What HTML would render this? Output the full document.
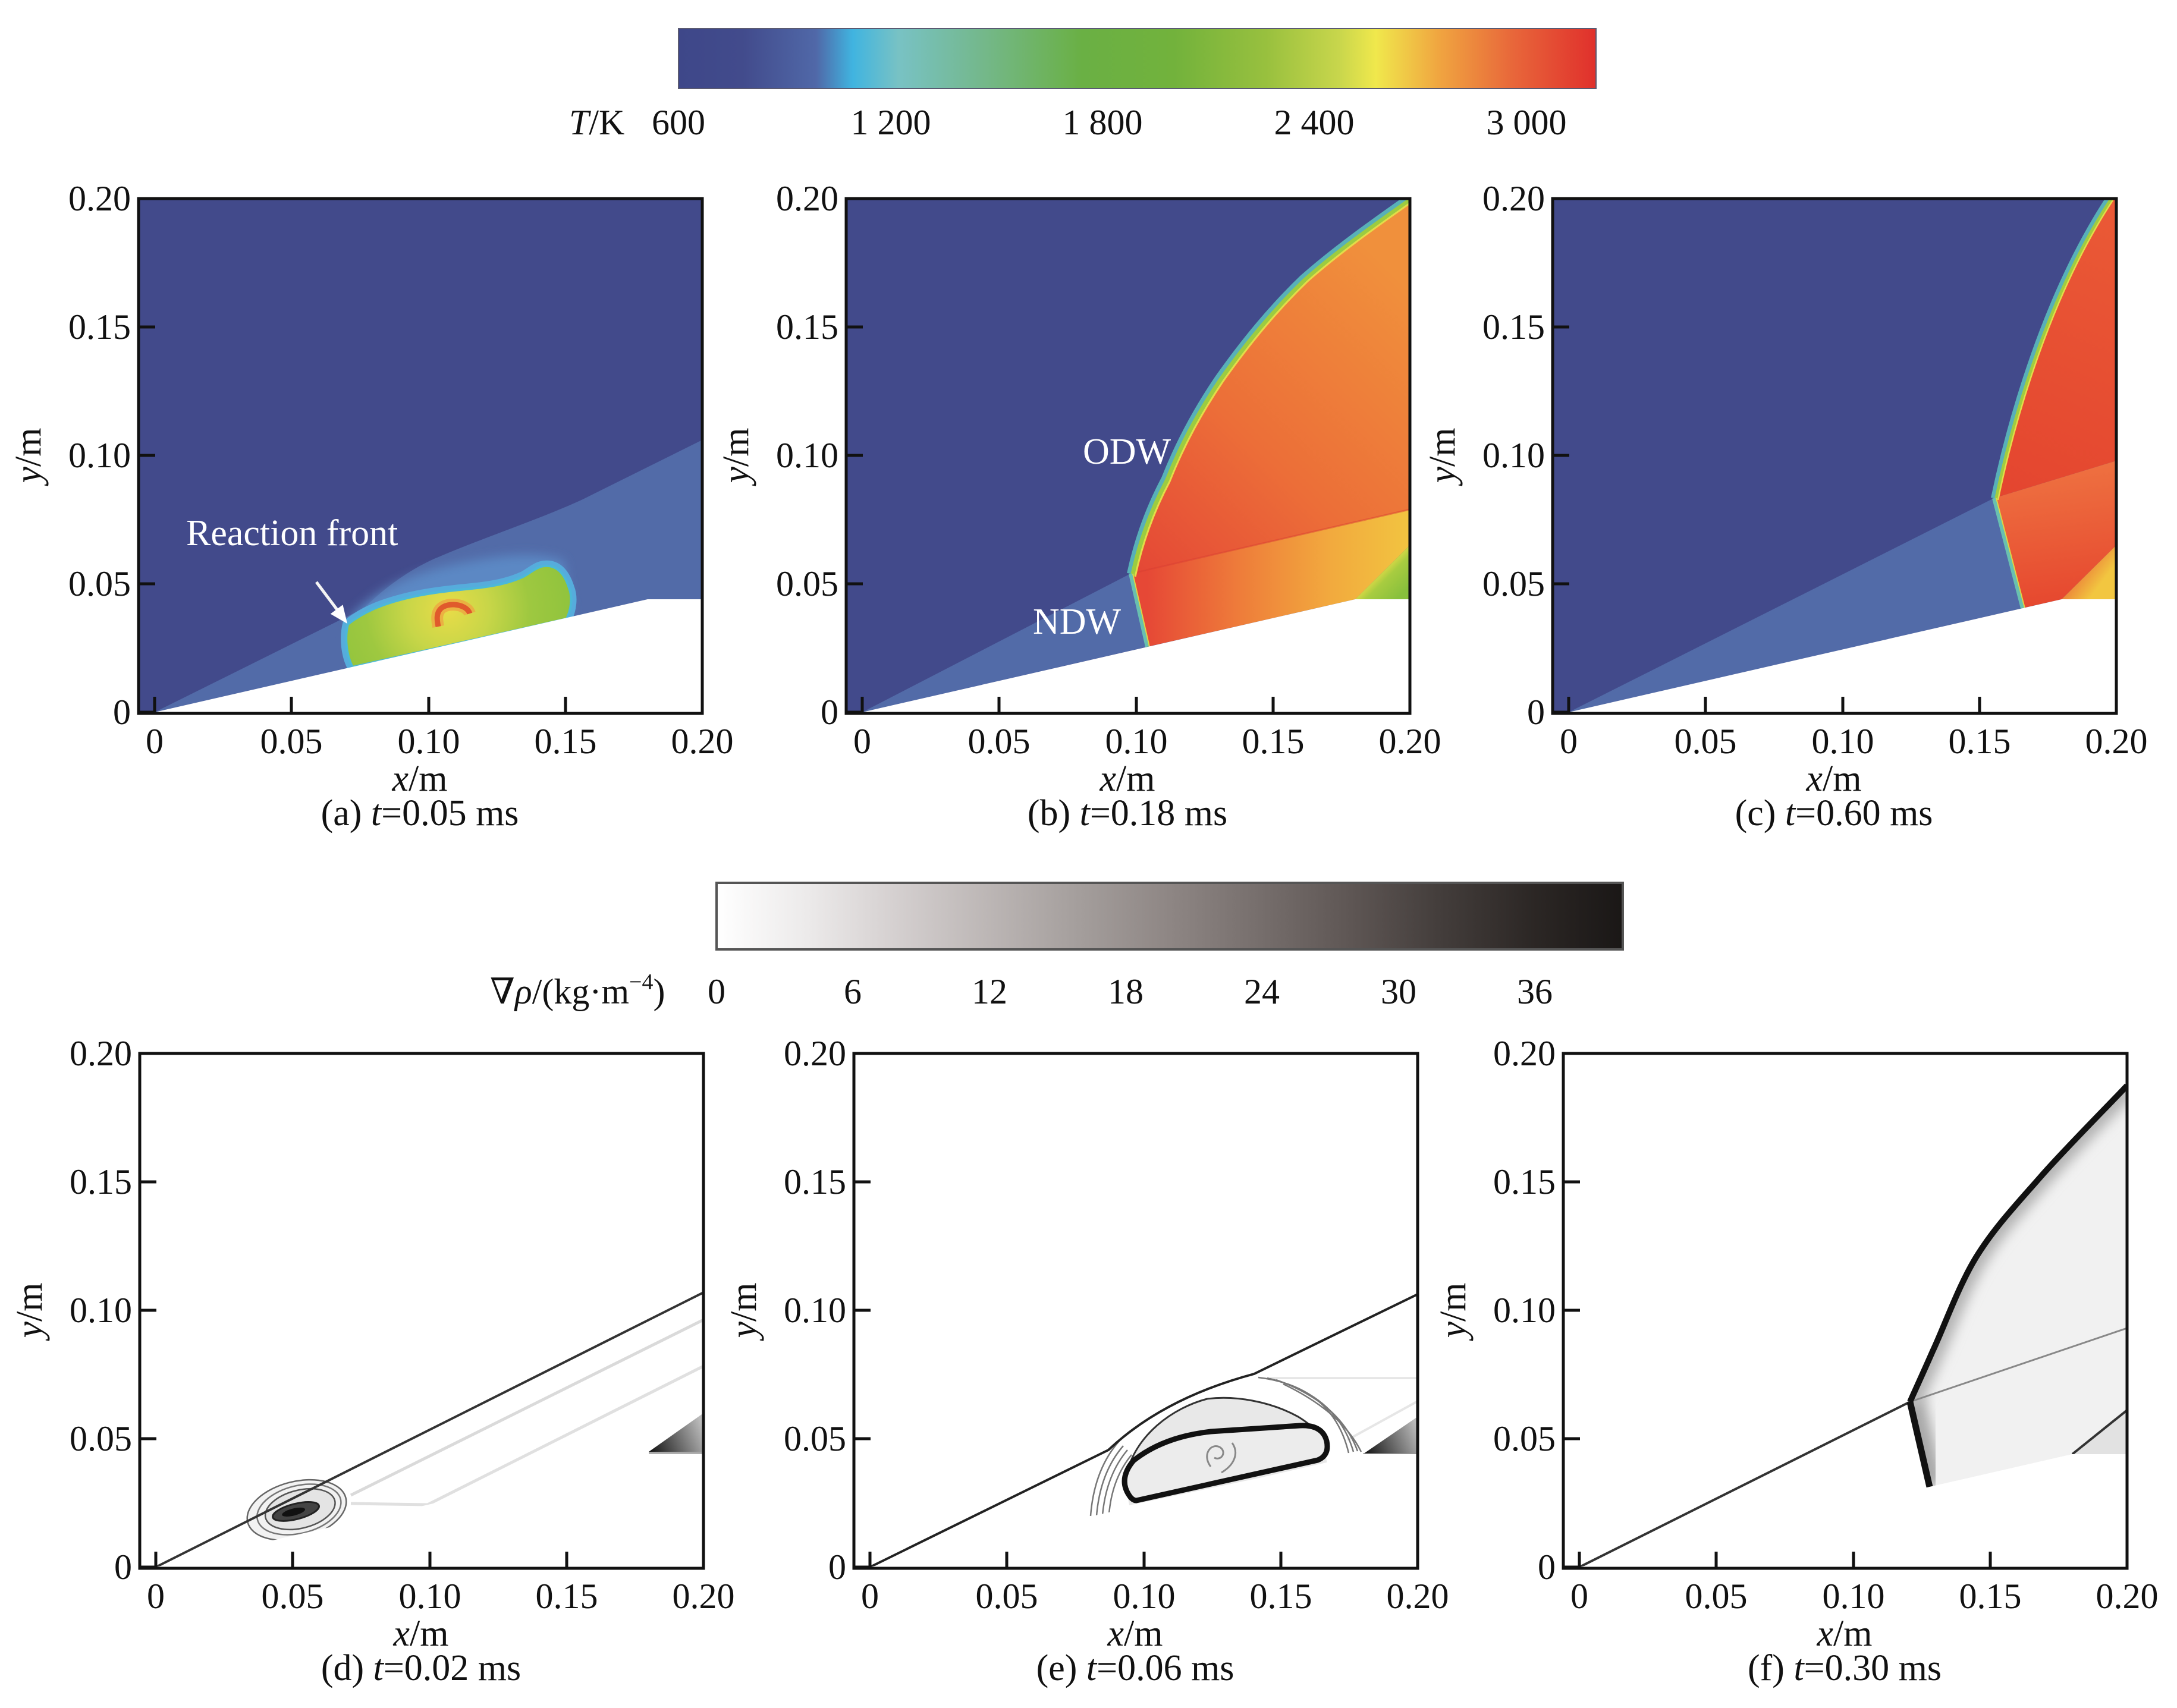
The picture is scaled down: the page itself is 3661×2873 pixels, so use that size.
<!DOCTYPE html>
<html>
<head>
<meta charset="utf-8">
<style>
html,body{margin:0;padding:0;background:#fff;}
svg{display:block;}
text{font-family:"Liberation Serif","DejaVu Serif",serif;fill:#111;}
</style>
</head>
<body>
<svg width="3661" height="2873" viewBox="0 0 3661 2873" xmlns="http://www.w3.org/2000/svg">
<defs>
  <linearGradient id="cbT" x1="0" y1="0" x2="1" y2="0">
    <stop offset="0" stop-color="#3e4789"/>
    <stop offset="0.07" stop-color="#424b8c"/>
    <stop offset="0.15" stop-color="#5068a8"/>
    <stop offset="0.19" stop-color="#40b4e0"/>
    <stop offset="0.24" stop-color="#78c2c4"/>
    <stop offset="0.33" stop-color="#74b88c"/>
    <stop offset="0.44" stop-color="#6ab044"/>
    <stop offset="0.54" stop-color="#72b23c"/>
    <stop offset="0.64" stop-color="#98c03e"/>
    <stop offset="0.72" stop-color="#c8d64c"/>
    <stop offset="0.76" stop-color="#f0e84c"/>
    <stop offset="0.83" stop-color="#f0a440"/>
    <stop offset="0.91" stop-color="#e8663a"/>
    <stop offset="1" stop-color="#e0302c"/>
  </linearGradient>
  <linearGradient id="cbB" x1="0" y1="0" x2="1" y2="0">
    <stop offset="0" stop-color="#ffffff"/>
    <stop offset="0.1" stop-color="#eceaea"/>
    <stop offset="0.2" stop-color="#d4cfcf"/>
    <stop offset="0.3" stop-color="#bcb6b5"/>
    <stop offset="0.4" stop-color="#a49e9c"/>
    <stop offset="0.5" stop-color="#8e8684"/>
    <stop offset="0.6" stop-color="#766e6c"/>
    <stop offset="0.7" stop-color="#5e5654"/>
    <stop offset="0.8" stop-color="#433d3b"/>
    <stop offset="0.9" stop-color="#2c2725"/>
    <stop offset="1" stop-color="#1a1716"/>
  </linearGradient>
  <clipPath id="cp"><rect x="0" y="0" width="948" height="866"/></clipPath>
  <radialGradient id="gA" gradientUnits="userSpaceOnUse" cx="520" cy="692" r="230">
    <stop offset="0" stop-color="#e8dc48"/>
    <stop offset="0.3" stop-color="#c8d648"/>
    <stop offset="0.6" stop-color="#9ec840"/>
    <stop offset="1" stop-color="#8cc23c"/>
  </radialGradient>
  <linearGradient id="bA" gradientUnits="userSpaceOnUse" x1="478" y1="631" x2="948" y2="150">
    <stop offset="0" stop-color="#e44636"/>
    <stop offset="0.45" stop-color="#ec6e38"/>
    <stop offset="1" stop-color="#f0903c"/>
  </linearGradient>
  <linearGradient id="bB" gradientUnits="userSpaceOnUse" x1="506" y1="0" x2="948" y2="0">
    <stop offset="0" stop-color="#e64836"/>
    <stop offset="0.35" stop-color="#ee7c3a"/>
    <stop offset="0.7" stop-color="#f2aa3e"/>
    <stop offset="1" stop-color="#f2c440"/>
  </linearGradient>
  <linearGradient id="bC" gradientUnits="userSpaceOnUse" x1="895" y1="625" x2="935" y2="665">
    <stop offset="0" stop-color="#e8dc48"/>
    <stop offset="0.35" stop-color="#a8cc40"/>
    <stop offset="1" stop-color="#88c03c"/>
  </linearGradient>
  <linearGradient id="cA" gradientUnits="userSpaceOnUse" x1="742" y1="504" x2="948" y2="0">
    <stop offset="0" stop-color="#e4452f"/>
    <stop offset="1" stop-color="#ea5a36"/>
  </linearGradient>
  <linearGradient id="cB" gradientUnits="userSpaceOnUse" x1="742" y1="470" x2="770" y2="690">
    <stop offset="0" stop-color="#ee7040"/>
    <stop offset="1" stop-color="#e6482f"/>
  </linearGradient>
  <linearGradient id="cC" gradientUnits="userSpaceOnUse" x1="890" y1="630" x2="948" y2="674">
    <stop offset="0" stop-color="#ec8a3a"/>
    <stop offset="0.5" stop-color="#f2c640"/>
    <stop offset="1" stop-color="#f2c640"/>
  </linearGradient>
  <linearGradient id="dT" gradientUnits="userSpaceOnUse" x1="856" y1="670" x2="948" y2="630">
    <stop offset="0" stop-color="#111"/>
    <stop offset="1" stop-color="#bbb"/>
  </linearGradient>
  <clipPath id="cpF"><path d="M583,586 C589,572 603,542 621,501 C640,461 664,392 694,343 C724,294 761,255 803,207 C845,159 924,80 948,54 L948,674 L856,674 L616,729 Z"/></clipPath>
  <filter id="bl" x="-30%" y="-30%" width="160%" height="160%"><feGaussianBlur stdDeviation="10"/></filter>
  <filter id="bl2" x="-30%" y="-30%" width="160%" height="160%"><feGaussianBlur stdDeviation="9"/></filter>
</defs>

<rect x="0" y="0" width="3661" height="2873" fill="#fff"/>

<!-- Top colorbar -->
<rect x="1141" y="48" width="1543" height="101" fill="url(#cbT)" stroke="#5a5a72" stroke-width="2"/>
<g font-size="60">
  <text x="957" y="226"><tspan font-style="italic">T</tspan>/K</text>
  <text x="1141" y="226" text-anchor="middle">600</text>
  <text x="1498" y="226" text-anchor="middle">1 200</text>
  <text x="1854" y="226" text-anchor="middle">1 800</text>
  <text x="2210" y="226" text-anchor="middle">2 400</text>
  <text x="2567" y="226" text-anchor="middle">3 000</text>
</g>

<!-- Bottom colorbar -->
<rect x="1205" y="1485" width="1524" height="112" fill="url(#cbB)" stroke="#555" stroke-width="4"/>
<g font-size="60">
  <text x="824" y="1688">∇<tspan font-style="italic">ρ</tspan>/(kg·m<tspan font-size="38" dy="-24">−4</tspan><tspan dy="24">)</tspan></text>
  <text x="1205" y="1688" text-anchor="middle">0</text>
  <text x="1434" y="1688" text-anchor="middle">6</text>
  <text x="1664" y="1688" text-anchor="middle">12</text>
  <text x="1893" y="1688" text-anchor="middle">18</text>
  <text x="2122" y="1688" text-anchor="middle">24</text>
  <text x="2352" y="1688" text-anchor="middle">30</text>
  <text x="2581" y="1688" text-anchor="middle">36</text>
</g>

<!-- ============ Panel (a) ============ -->
<g transform="translate(233,334)">
  <g clip-path="url(#cp)">
    <rect width="948" height="866" fill="#424a8b"/>
    <polygon points="27,864 948,406 948,674 856,674" fill="#526ba8"/>
    <path d="M330,740 C390,672 440,632 497,606 C580,570 680,538 760,500 L760,700 Z" fill="#526ba8"/>
    <path filter="url(#bl2)" d="M350,712 C390,664 450,634 520,618 C600,600 670,592 715,610 L728,700 Z" fill="#5b88c4"/>
    <path d="M352,716 C346,740 350,770 360,788 L720,707 C728,690 730,670 724,655 C718,636 708,620 690,618 C672,616 662,628 647,636 C625,646 600,652 560,656 C520,660 480,664 440,675 C410,683 380,694 352,716 Z" fill="#56acdc" stroke="#56acdc" stroke-width="18" stroke-linejoin="round"/>
    <path d="M352,716 C346,740 350,770 360,788 L720,707 C728,690 730,670 724,655 C718,636 708,620 690,618 C672,616 662,628 647,636 C625,646 600,652 560,656 C520,660 480,664 440,675 C410,683 380,694 352,716 Z" fill="url(#gA)" stroke="#4cb8d8" stroke-width="4"/>
    <path d="M557,698 C552,682 520,678 508,690 C500,698 502,710 504,720" fill="none" stroke="#f0a040" stroke-width="20" opacity="0.7"/>
    <path d="M557,698 C552,682 520,678 508,690 C500,698 502,710 504,720" fill="none" stroke="#e05a2c" stroke-width="9"/>
    <polygon points="27,864 856,674 948,674 948,870 -5,870 -5,866" fill="#fff"/>
  </g>
  <text x="80" y="583" font-size="62" style="fill:#fff">Reaction front</text>
  <line x1="299" y1="645" x2="335" y2="693" stroke="#f4f4f4" stroke-width="5"/>
  <polygon points="351,715 322.7,698.6 343.5,683.2" fill="#fff"/>
  <rect x="0" y="0" width="948" height="866" fill="none" stroke="#111" stroke-width="5"/>
  <path d="M27,866 v-28 M257,866 v-28 M488,866 v-28 M718,866 v-28 M0,864 h28 M0,648 h28 M0,432 h28 M0,216 h28" stroke="#111" stroke-width="5"/>
  <g font-size="60" text-anchor="end">
    <text x="-13" y="884">0</text><text x="-13" y="668">0.05</text><text x="-13" y="452">0.10</text><text x="-13" y="236">0.15</text><text x="-13" y="20">0.20</text>
  </g>
  <g font-size="60" text-anchor="middle">
    <text x="27" y="933">0</text><text x="257" y="933">0.05</text><text x="488" y="933">0.10</text><text x="718" y="933">0.15</text><text x="948" y="933">0.20</text>
  </g>
  <text x="473" y="996" font-size="62" text-anchor="middle"><tspan font-style="italic">x</tspan>/m</text>
  <text x="473" y="1054" font-size="62" text-anchor="middle">(a) <tspan font-style="italic">t</tspan>=0.05 ms</text>
  <text transform="translate(-165,432) rotate(-90)" font-size="62" text-anchor="middle"><tspan font-style="italic">y</tspan>/m</text>
</g>

<!-- ============ Panel (b) ============ -->
<g transform="translate(1423,334)">
  <g clip-path="url(#cp)">
    <rect width="948" height="866" fill="#424a8b"/>
    <polygon points="27,864 478,631 506,754" fill="#526ba8"/>
    <path d="M478,631 C490,575 510,520 536,471 C560,410 590,355 626,302 C670,240 715,185 768,134 C820,88 880,45 944,0 L948,0 L948,523 Z" fill="url(#bA)"/>
    <path d="M478,631 L948,523 L948,583 L856,674 L506,754 Z" fill="url(#bB)"/>
    <path d="M856,674 L948,583 L948,674 Z" fill="url(#bC)"/>
    <line x1="478" y1="631" x2="948" y2="523" stroke="#e04030" stroke-width="3" opacity="0.5"/>
    <path d="M478,631 C490,575 510,520 536,471 C560,410 590,355 626,302 C670,240 715,185 768,134 C820,88 880,45 944,0" fill="none" stroke="#58b0b8" stroke-width="12"/>
    <path transform="translate(4,3)" d="M478,631 C490,575 510,520 536,471 C560,410 590,355 626,302 C670,240 715,185 768,134 C820,88 880,45 944,0" fill="none" stroke="#9ccc40" stroke-width="8"/>
    <path transform="translate(8,5)" d="M478,631 C490,575 510,520 536,471 C560,410 590,355 626,302 C670,240 715,185 768,134 C820,88 880,45 944,0" fill="none" stroke="#e4dc48" stroke-width="3"/>
    <line x1="478" y1="631" x2="506" y2="754" stroke="#68c0b0" stroke-width="6"/>
    <line x1="482" y1="631" x2="510" y2="754" stroke="#d8d848" stroke-width="2"/>
    <polygon points="27,864 856,674 948,674 948,870 -5,870 -5,866" fill="#fff"/>
  </g>
  <text x="398" y="446" font-size="62" style="fill:#fff">ODW</text>
  <text x="314" y="732" font-size="62" style="fill:#fff">NDW</text>
  <rect x="0" y="0" width="948" height="866" fill="none" stroke="#111" stroke-width="5"/>
  <path d="M27,866 v-28 M257,866 v-28 M488,866 v-28 M718,866 v-28 M0,864 h28 M0,648 h28 M0,432 h28 M0,216 h28" stroke="#111" stroke-width="5"/>
  <g font-size="60" text-anchor="end">
    <text x="-13" y="884">0</text><text x="-13" y="668">0.05</text><text x="-13" y="452">0.10</text><text x="-13" y="236">0.15</text><text x="-13" y="20">0.20</text>
  </g>
  <g font-size="60" text-anchor="middle">
    <text x="27" y="933">0</text><text x="257" y="933">0.05</text><text x="488" y="933">0.10</text><text x="718" y="933">0.15</text><text x="948" y="933">0.20</text>
  </g>
  <text x="473" y="996" font-size="62" text-anchor="middle"><tspan font-style="italic">x</tspan>/m</text>
  <text x="473" y="1054" font-size="62" text-anchor="middle">(b) <tspan font-style="italic">t</tspan>=0.18 ms</text>
  <text transform="translate(-165,432) rotate(-90)" font-size="62" text-anchor="middle"><tspan font-style="italic">y</tspan>/m</text>
</g>

<!-- ============ Panel (c) ============ -->
<g transform="translate(2611,334)">
  <g clip-path="url(#cp)">
    <rect width="948" height="866" fill="#424a8b"/>
    <polygon points="27,864 742,504 790,689" fill="#526ba8"/>
    <path d="M742,504 C770,370 830,160 935,0 L948,0 L948,441 Z" fill="url(#cA)"/>
    <path d="M742,504 L948,441 L948,583 L856,674 L790,689 Z" fill="url(#cB)"/>
    <path d="M856,674 L948,583 L948,674 Z" fill="url(#cC)"/>
    <path d="M742,504 C770,370 830,160 935,0" fill="none" stroke="#58b0b8" stroke-width="10"/>
    <path transform="translate(4,2)" d="M742,504 C770,370 830,160 935,0" fill="none" stroke="#a0cc40" stroke-width="6"/>
    <path transform="translate(7,3)" d="M742,504 C770,370 830,160 935,0" fill="none" stroke="#e4dc48" stroke-width="2.5"/>
    <line x1="742" y1="504" x2="790" y2="689" stroke="#68c0b0" stroke-width="6"/>
    <line x1="746" y1="504" x2="794" y2="689" stroke="#d8d848" stroke-width="2"/>
    <polygon points="27,864 856,674 948,674 948,870 -5,870 -5,866" fill="#fff"/>
  </g>
  <rect x="0" y="0" width="948" height="866" fill="none" stroke="#111" stroke-width="5"/>
  <path d="M27,866 v-28 M257,866 v-28 M488,866 v-28 M718,866 v-28 M0,864 h28 M0,648 h28 M0,432 h28 M0,216 h28" stroke="#111" stroke-width="5"/>
  <g font-size="60" text-anchor="end">
    <text x="-13" y="884">0</text><text x="-13" y="668">0.05</text><text x="-13" y="452">0.10</text><text x="-13" y="236">0.15</text><text x="-13" y="20">0.20</text>
  </g>
  <g font-size="60" text-anchor="middle">
    <text x="27" y="933">0</text><text x="257" y="933">0.05</text><text x="488" y="933">0.10</text><text x="718" y="933">0.15</text><text x="948" y="933">0.20</text>
  </g>
  <text x="473" y="996" font-size="62" text-anchor="middle"><tspan font-style="italic">x</tspan>/m</text>
  <text x="473" y="1054" font-size="62" text-anchor="middle">(c) <tspan font-style="italic">t</tspan>=0.60 ms</text>
  <text transform="translate(-165,432) rotate(-90)" font-size="62" text-anchor="middle"><tspan font-style="italic">y</tspan>/m</text>
</g>

<!-- ============ Panel (d) ============ -->
<g transform="translate(235,1772)">
  <g clip-path="url(#cp)">
    <rect width="948" height="866" fill="#fff"/>
    <line x1="355" y1="743" x2="948" y2="448" stroke="#dadada" stroke-width="5"/>
    <polyline points="355,757 484,759 948,526" fill="none" stroke="#e0e0e0" stroke-width="5"/>
    <polygon points="856,670 948,605 948,670" fill="url(#dT)"/>
    <line x1="856" y1="672" x2="948" y2="672" stroke="#999" stroke-width="3"/>
    <g transform="rotate(-14,264,768)">
      <ellipse cx="264" cy="768" rx="85" ry="48" fill="#f2f2f2" stroke="#666" stroke-width="2.5"/>
      <ellipse cx="268" cy="768" rx="72" ry="40" fill="none" stroke="#777" stroke-width="2.5"/>
      <ellipse cx="270" cy="768" rx="60" ry="32" fill="#e4e4e4" stroke="#555" stroke-width="2.5"/>
      <ellipse cx="262" cy="770" rx="40" ry="13" fill="#444" stroke="#222" stroke-width="3"/>
      <ellipse cx="258" cy="770" rx="20" ry="6" fill="#111"/>
    </g>
    <line x1="27" y1="864" x2="948" y2="402" stroke="#333" stroke-width="4"/>
    <polygon points="27,864 856,674 948,674 948,870 -5,870 -5,866" fill="#fff"/>
  </g>
  <rect x="0" y="0" width="948" height="866" fill="none" stroke="#111" stroke-width="5"/>
  <path d="M27,866 v-28 M257,866 v-28 M488,866 v-28 M718,866 v-28 M0,864 h28 M0,648 h28 M0,432 h28 M0,216 h28" stroke="#111" stroke-width="5"/>
  <g font-size="60" text-anchor="end">
    <text x="-13" y="884">0</text><text x="-13" y="668">0.05</text><text x="-13" y="452">0.10</text><text x="-13" y="236">0.15</text><text x="-13" y="20">0.20</text>
  </g>
  <g font-size="60" text-anchor="middle">
    <text x="27" y="933">0</text><text x="257" y="933">0.05</text><text x="488" y="933">0.10</text><text x="718" y="933">0.15</text><text x="948" y="933">0.20</text>
  </g>
  <text x="473" y="996" font-size="62" text-anchor="middle"><tspan font-style="italic">x</tspan>/m</text>
  <text x="473" y="1054" font-size="62" text-anchor="middle">(d) <tspan font-style="italic">t</tspan>=0.02 ms</text>
  <text transform="translate(-165,432) rotate(-90)" font-size="62" text-anchor="middle"><tspan font-style="italic">y</tspan>/m</text>
</g>

<!-- ============ Panel (e) ============ -->
<g transform="translate(1436,1772)">
  <g clip-path="url(#cp)">
    <rect width="948" height="866" fill="#fff"/>
    <line x1="700" y1="546" x2="948" y2="546" stroke="#e2e2e2" stroke-width="3"/>
    <line x1="830" y1="650" x2="948" y2="585" stroke="#e6e6e6" stroke-width="4"/>
    <path d="M456,718 C470,640 540,595 594,581 C640,575 700,585 747,611 C770,625 785,640 790,660 L796,690 L463,760 Z" fill="#e8e8e8"/>
    <path d="M456,718 C470,640 540,595 594,581 C640,575 700,585 747,611 C770,625 785,640 790,660" fill="none" stroke="#333" stroke-width="3"/>
    <g fill="none" stroke="#777" stroke-width="2.5">
      <path d="M398,778 Q404,700 446,652"/>
      <path d="M408,778 Q414,705 453,660"/>
      <path d="M418,777 Q424,710 460,667"/>
      <path d="M429,775 Q434,715 467,675"/>
      <path d="M680,545 Q805,560 832,672"/>
      <path d="M695,546 Q812,573 840,670"/>
      <path d="M710,549 Q818,588 847,669"/>
      <path d="M722,556 Q820,603 853,670"/>
    </g>
    <polygon points="856,674 948,611 948,674" fill="url(#dT)"/>
    <line x1="856" y1="674" x2="948" y2="674" stroke="#999" stroke-width="3"/>
    <path d="M475,752 L780,684 Q800,676 795,652 Q788,624 750,626 L600,636 Q520,645 470,685 Q445,715 462,742 Q468,752 475,752 Z" fill="#ececec" stroke="#111" stroke-width="9"/>
    <path d="M600,695 C585,675 600,655 615,662 C628,670 618,686 606,680 M618,705 C640,692 648,672 636,655" fill="none" stroke="#888" stroke-width="3"/>
    <path d="M27,864 L428,667 Q520,580 673,539 L948,405" fill="none" stroke="#222" stroke-width="4"/>
    <polygon points="27,864 856,674 948,674 948,870 -5,870 -5,866" fill="#fff"/>
  </g>
  <rect x="0" y="0" width="948" height="866" fill="none" stroke="#111" stroke-width="5"/>
  <path d="M27,866 v-28 M257,866 v-28 M488,866 v-28 M718,866 v-28 M0,864 h28 M0,648 h28 M0,432 h28 M0,216 h28" stroke="#111" stroke-width="5"/>
  <g font-size="60" text-anchor="end">
    <text x="-13" y="884">0</text><text x="-13" y="668">0.05</text><text x="-13" y="452">0.10</text><text x="-13" y="236">0.15</text><text x="-13" y="20">0.20</text>
  </g>
  <g font-size="60" text-anchor="middle">
    <text x="27" y="933">0</text><text x="257" y="933">0.05</text><text x="488" y="933">0.10</text><text x="718" y="933">0.15</text><text x="948" y="933">0.20</text>
  </g>
  <text x="473" y="996" font-size="62" text-anchor="middle"><tspan font-style="italic">x</tspan>/m</text>
  <text x="473" y="1054" font-size="62" text-anchor="middle">(e) <tspan font-style="italic">t</tspan>=0.06 ms</text>
  <text transform="translate(-165,432) rotate(-90)" font-size="62" text-anchor="middle"><tspan font-style="italic">y</tspan>/m</text>
</g>

<!-- ============ Panel (f) ============ -->
<g transform="translate(2629,1772)">
  <g clip-path="url(#cp)">
    <rect width="948" height="866" fill="#fff"/>
    <path d="M583,586 C589,572 603,542 621,501 C640,461 664,392 694,343 C724,294 761,255 803,207 C845,159 924,80 948,54 L948,674 L856,674 L616,729 Z" fill="#f1f1f1"/>
    <g clip-path="url(#cpF)" fill="none">
      <path filter="url(#bl)" d="M583,586 C589,572 603,542 621,501 C640,461 664,392 694,343 C724,294 761,255 803,207 C845,159 924,80 948,54" stroke="#b4b4b4" stroke-width="40"/>
      <line filter="url(#bl)" x1="583" y1="586" x2="616" y2="729" stroke="#a8a8a8" stroke-width="50"/>
    </g>
    <polygon points="856,674 948,600 948,674" fill="#e2e2e2"/>
    <line x1="856" y1="674" x2="948" y2="600" stroke="#333" stroke-width="4"/>
    <line x1="583" y1="586" x2="948" y2="462" stroke="#888" stroke-width="3"/>
    <line x1="27" y1="864" x2="583" y2="586" stroke="#333" stroke-width="4"/>
    <path d="M583,586 C589,572 603,542 621,501 C640,461 664,392 694,343 C724,294 761,255 803,207 C845,159 924,80 948,54" fill="none" stroke="#111" stroke-width="10"/>
    <line x1="583" y1="586" x2="616" y2="729" stroke="#111" stroke-width="11"/>
    <polygon points="27,864 856,674 948,674 948,870 -5,870 -5,866" fill="#fff"/>
  </g>
  <rect x="0" y="0" width="948" height="866" fill="none" stroke="#111" stroke-width="5"/>
  <path d="M27,866 v-28 M257,866 v-28 M488,866 v-28 M718,866 v-28 M0,864 h28 M0,648 h28 M0,432 h28 M0,216 h28" stroke="#111" stroke-width="5"/>
  <g font-size="60" text-anchor="end">
    <text x="-13" y="884">0</text><text x="-13" y="668">0.05</text><text x="-13" y="452">0.10</text><text x="-13" y="236">0.15</text><text x="-13" y="20">0.20</text>
  </g>
  <g font-size="60" text-anchor="middle">
    <text x="27" y="933">0</text><text x="257" y="933">0.05</text><text x="488" y="933">0.10</text><text x="718" y="933">0.15</text><text x="948" y="933">0.20</text>
  </g>
  <text x="473" y="996" font-size="62" text-anchor="middle"><tspan font-style="italic">x</tspan>/m</text>
  <text x="473" y="1054" font-size="62" text-anchor="middle">(f) <tspan font-style="italic">t</tspan>=0.30 ms</text>
  <text transform="translate(-165,432) rotate(-90)" font-size="62" text-anchor="middle"><tspan font-style="italic">y</tspan>/m</text>
</g>

</svg>
</body>
</html>
